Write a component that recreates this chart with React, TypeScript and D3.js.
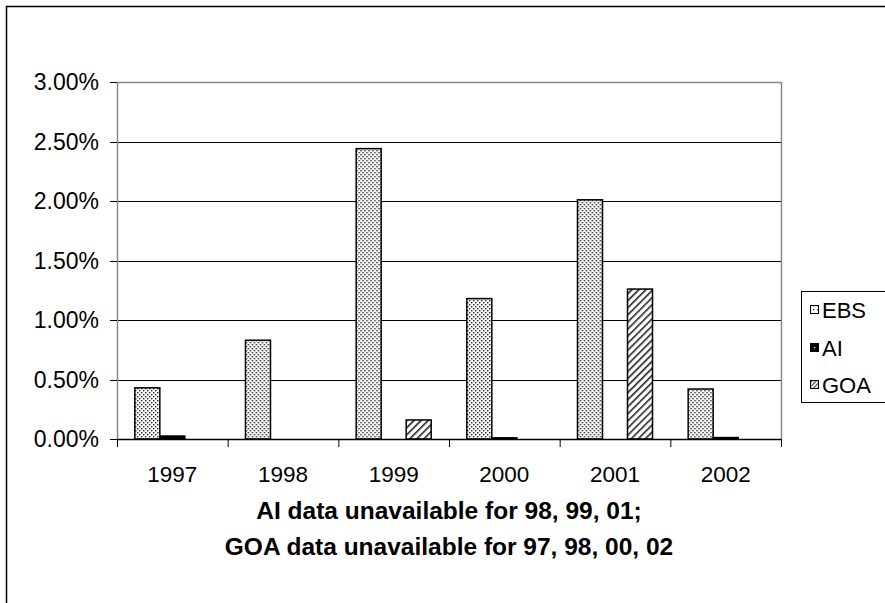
import React from "react";
import * as d3 from "d3";

const years = ["1997", "1998", "1999", "2000", "2001", "2002"];
const seriesNames = ["EBS", "AI", "GOA"];
const ebsValues = [0.0043, 0.0083, 0.0244, 0.0118, 0.0201, 0.0042];
const aiValues: (number | null)[] = [0.00025, null, null, 0.0001, null, 0.00012];
const goaValues: (number | null)[] = [null, null, 0.0016, null, 0.0126, null];
const yTicks = [0, 0.005, 0.01, 0.015, 0.02, 0.025, 0.03];
const noteLines = ["AI data unavailable for 98, 99, 01;", "GOA data unavailable for 97, 98, 00, 02"];

const W = 885;
const H = 603;
const plot = { left: 117, right: 781, top: 82, bottom: 439 };
const FONT = "'Liberation Sans', Arial, sans-serif";

export default function App() {
  const x0 = d3.scaleBand<string>().domain(years).range([plot.left, plot.right]).paddingInner(0).paddingOuter(0);
  const x1 = d3
    .scaleBand<string>()
    .domain(seriesNames)
    .range([0, x0.bandwidth()])
    .paddingInner(0)
    .paddingOuter(0.713);
  const y = d3.scaleLinear().domain([0, 0.03]).range([plot.bottom, plot.top]);
  const fmt = d3.format(".2%");

  const seriesData: Record<string, (number | null)[]> = {
    EBS: ebsValues,
    AI: aiValues,
    GOA: goaValues,
  };
  const fills: Record<string, string> = {
    EBS: "url(#dots)",
    AI: "#000",
    GOA: "url(#hatch)",
  };
  const legendFills: Record<string, string> = {
    EBS: "url(#dotsL)",
    AI: "#000",
    GOA: "url(#hatchL)",
  };

  const legendY = [310, 348, 385];

  return (
    <svg
      width={W}
      height={H}
      style={{ position: "absolute", left: 0, top: 0, background: "#fff" }}
      fontFamily={FONT}
    >
      <defs>
        <pattern id="dots" width={4} height={4} patternUnits="userSpaceOnUse">
          <rect width={4} height={4} fill="#fff" />
          <rect x={0} y={0} width={1.4} height={1.4} fill="#222" />
          <rect x={2} y={2} width={1.4} height={1.4} fill="#222" />
        </pattern>
        <pattern id="dotsL" width={4} height={4} patternUnits="userSpaceOnUse">
          <rect width={4} height={4} fill="#fff" />
          <rect x={1} y={1} width={1.3} height={1.3} fill="#333" />
        </pattern>
        <pattern
          id="hatch"
          width={5}
          height={5}
          patternUnits="userSpaceOnUse"
          patternTransform="rotate(45)"
        >
          <rect width={5} height={5} fill="#fff" />
          <rect x={0} y={0} width={1.6} height={5} fill="#222" />
        </pattern>
        <pattern
          id="hatchL"
          width={3}
          height={3}
          patternUnits="userSpaceOnUse"
          patternTransform="rotate(45)"
        >
          <rect width={3} height={3} fill="#fff" />
          <rect x={0} y={0} width={1.2} height={3} fill="#444" />
        </pattern>
      </defs>

      {/* outer chart border */}
      <rect x={6.5} y={6.5} width={W + 20} height={H + 20} fill="#fff" stroke="#000" strokeWidth={1.5} />

      {/* gridlines */}
      {yTicks.map((t) => (
        <line
          key={"g" + t}
          x1={plot.left}
          x2={plot.right}
          y1={Math.round(y(t)) + 0.5}
          y2={Math.round(y(t)) + 0.5}
          stroke={t === 0.03 ? "#888" : "#000"}
          strokeWidth={t === 0.03 ? 1.5 : 1}
        />
      ))}
      {/* right border */}
      <line x1={plot.right + 0.5} x2={plot.right + 0.5} y1={plot.top} y2={plot.bottom} stroke="#888" strokeWidth={1.5} />

      {/* bars */}
      {years.map((yr, i) => (
        <g key={yr} transform={`translate(${x0(yr)},0)`}>
          {seriesNames.map((s) => {
            const v = seriesData[s][i];
            if (v == null) return null;
            const top = y(v);
            return (
              <rect
                key={s}
                x={x1(s)}
                y={top}
                width={x1.bandwidth()}
                height={plot.bottom - top}
                fill={fills[s]}
                stroke="#000"
                strokeWidth={1.5}
              />
            );
          })}
        </g>
      ))}

      {/* y axis */}
      <line x1={plot.left + 0.5} x2={plot.left + 0.5} y1={plot.top} y2={plot.bottom} stroke="#888" strokeWidth={1.5} />
      {yTicks.map((t) => (
        <g key={"t" + t}>
          <line
            x1={plot.left - 7}
            x2={plot.left}
            y1={Math.round(y(t)) + 0.5}
            y2={Math.round(y(t)) + 0.5}
            stroke="#000"
          />
          <text x={99} y={y(t)} dy="0.35em" textAnchor="end" fontSize={23} fill="#000">
            {fmt(t)}
          </text>
        </g>
      ))}

      {/* x axis */}
      <line x1={plot.left} x2={plot.right} y1={plot.bottom + 0.5} y2={plot.bottom + 0.5} stroke="#000" strokeWidth={1.5} />
      {[...years.map((yr) => x0(yr) as number), plot.right].map((xv, i) => (
        <line key={"xt" + i} x1={xv + 0.5} x2={xv + 0.5} y1={plot.bottom} y2={plot.bottom + 8} stroke="#000" />
      ))}
      {years.map((yr) => (
        <text
          key={"xl" + yr}
          x={(x0(yr) as number) + x0.bandwidth() / 2}
          y={474}
          dy="0.35em"
          textAnchor="middle"
          fontSize={22.5}
          fill="#000"
        >
          {yr}
        </text>
      ))}

      {/* axis note */}
      {noteLines.map((ln, i) => (
        <text
          key={"n" + i}
          x={(plot.left + plot.right) / 2}
          y={510 + i * 36}
          dy="0.35em"
          textAnchor="middle"
          fontSize={24.5}
          fontWeight="bold"
          fill="#000"
        >
          {ln}
        </text>
      ))}

      {/* legend */}
      <rect x={801.5} y={291.5} width={100} height={111} fill="#fff" stroke="#000" strokeWidth={1} />
      {seriesNames.map((s, i) => (
        <g key={"lg" + s}>
          <rect
            x={810.5}
            y={legendY[i] - 4.5}
            width={8}
            height={8}
            fill={legendFills[s]}
            stroke="#000"
            strokeWidth={1}
          />
          {s === "AI" && <rect x={814} y={legendY[i] - 1} width={1.2} height={1.2} fill="#fff" />}
          <text x={822} y={legendY[i]} dy="0.35em" fontSize={22} fill="#000">
            {s}
          </text>
        </g>
      ))}
    </svg>
  );
}
